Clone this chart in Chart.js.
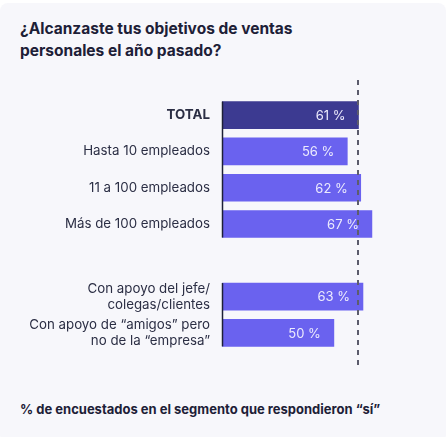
<!DOCTYPE html>
<html>
<head>
<meta charset="utf-8">
<script src="https://cdn.jsdelivr.net/npm/chart.js@4"></script>
<style>
  html, body { margin: 0; padding: 0; background: #ffffff; width: 447px; height: 437px; overflow: hidden; }
  #panel { position: absolute; left: 0; top: 3px; width: 446px; height: 440px; background: #f7f7fb; border-radius: 8px; }
  #title { position: absolute; left: 20px; top: 18px; font-family: Inter, "Noto Sans", sans-serif; font-weight: 700; font-size: 15.5px; line-height: 21.5px; color: #1d2037; }
  #note { position: absolute; left: 20px; top: 401px; font-family: Inter, "Noto Sans", sans-serif; font-weight: 700; font-size: 13px; color: #1d2037; }
  #wrap { position: absolute; left: 0; top: 0; width: 447px; height: 437px; }
</style>
</head>
<body>
<div id="panel"></div>
<div id="title">¿Alcanzaste tus objetivos de ventas<br>personales el año pasado?</div>
<div id="note">% de encuestados en el segmento que respondieron “sí”</div>
<div id="wrap"><canvas id="c" width="447" height="437"></canvas></div>
<script>
const categories = [
  "TOTAL",
  "Hasta 10 empleados",
  "11 a 100 empleados",
  "Más de 100 empleados",
  "",
  ["Con apoyo del jefe/", "colegas/clientes"],
  ["Con apoyo de “amigos” pero", "no de la “empresa”"]
];
const values = [61, 56, 62, 67, null, 63, 50];
const referenceValue = 61;
const groups = [[0, 3], [5, 6]];

const barColors = values.map((v, i) => i === 0 ? "#3c3a91" : "#6a62ef");

const innerLabels = {
  id: "innerLabels",
  afterDatasetsDraw(chart) {
    const ctx = chart.ctx;
    const meta = chart.getDatasetMeta(0);
    ctx.save();
    ctx.font = "13px Inter, 'Noto Sans', sans-serif";
    ctx.fillStyle = "#ecebfd";
    ctx.textAlign = "right";
    ctx.textBaseline = "middle";
    meta.data.forEach((bar, i) => {
      if (values[i] === null) return;
      ctx.fillText(values[i] + " %", bar.x - 13, bar.y + 1);
    });
    ctx.restore();
  }
};

const axisAndRef = {
  id: "axisAndRef",
  afterDatasetsDraw(chart) {
    const ctx = chart.ctx;
    const meta = chart.getDatasetMeta(0);
    const xs = chart.scales.x;
    const x0 = xs.getPixelForValue(0);
    ctx.save();
    ctx.strokeStyle = "#1d2037";
    ctx.lineWidth = 1.5;
    groups.forEach(([a, b]) => {
      const top = meta.data[a].y - meta.data[a].height / 2;
      const bot = meta.data[b].y + meta.data[b].height / 2;
      ctx.beginPath();
      ctx.moveTo(x0 + 0.5, top);
      ctx.lineTo(x0 + 0.5, bot);
      ctx.stroke();
    });
    const xr = Math.round(xs.getPixelForValue(referenceValue));
    const ca = chart.chartArea;
    ctx.strokeStyle = "#5c5c6c";
    ctx.lineWidth = 2;
    ctx.setLineDash([5, 5]);
    ctx.beginPath();
    ctx.moveTo(xr, ca.top - 17);
    ctx.lineTo(xr, ca.bottom + 15);
    ctx.stroke();
    ctx.restore();
  }
};

new Chart(document.getElementById("c"), {
  type: "bar",
  data: {
    labels: categories,
    datasets: [{
      data: values,
      backgroundColor: barColors,
      borderWidth: 0,
      barThickness: 27
    }]
  },
  options: {
    indexAxis: "y",
    responsive: false,
    animation: false,
    devicePixelRatio: 1,
    layout: { padding: { top: 97, bottom: 86, left: 0, right: 46 } },
    plugins: { legend: { display: false }, tooltip: { enabled: false } },
    scales: {
      x: { display: false, min: 0, max: 80 },
      y: {
        afterFit(scale) { scale.width = 222; },
        grid: { display: false, drawTicks: false },
        border: { display: false },
        ticks: {
          padding: 12,
          color: "#2b2e44",
          font: (c) => ({ family: "Inter, 'Noto Sans', sans-serif", size: 13.3, weight: c.index === 0 ? "bold" : "normal", lineHeight: 1.2 })
        }
      }
    }
  },
  plugins: [innerLabels, axisAndRef]
});
</script>
</body>
</html>
